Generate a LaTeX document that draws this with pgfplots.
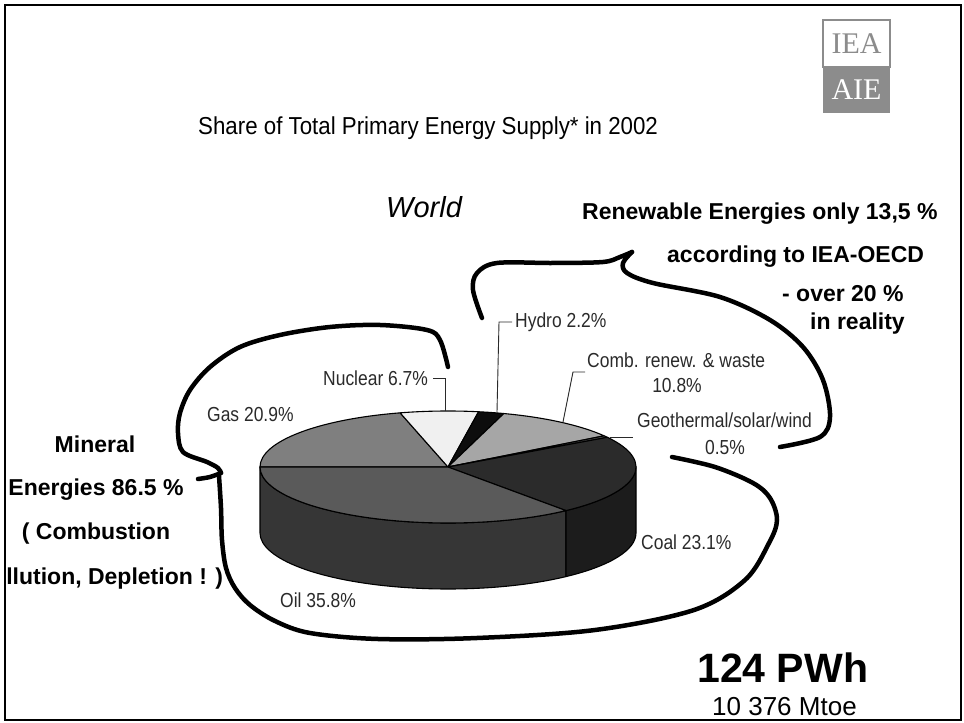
\documentclass[border=0pt]{standalone}
\usepackage{pgfplots}
\pgfplotsset{compat=1.18}
\usepackage{fontspec}
\setmainfont{Liberation Sans}
\newfontfamily\narrowfont[FakeStretch=0.86]{Liberation Sans}
\newfontfamily\titlefont[FakeStretch=0.91]{Liberation Sans}
\newfontfamily\logofont{Liberation Serif}
\definecolor{gasc}{HTML}{7F7F7F}
\definecolor{nucc}{HTML}{F0F0F0}
\definecolor{hydc}{HTML}{0D0D0D}
\definecolor{combc}{HTML}{A6A6A6}
\definecolor{geoc}{HTML}{555555}
\definecolor{coalc}{HTML}{2B2B2B}
\definecolor{oilc}{HTML}{5A5A5A}
\definecolor{oilside}{HTML}{363636}
\definecolor{coalside}{HTML}{1C1C1C}
\definecolor{labc}{HTML}{2A2A2A}
\definecolor{logoc}{HTML}{8C8C8C}
\newcommand{\lab}{\fontsize{20.3}{24}\selectfont\narrowfont\color{labc}}
\newcommand{\bigtxt}{\fontsize{23}{27}\selectfont\bfseries}
\newcommand{\slice}[3]{%
  \filldraw[fill=#3,draw=black,line width=1.1pt,line join=round]
    (axis cs:448,256) -- (axis cs:{448+188*cos(#1)},{256+56*sin(#1)})
    arc[start angle=#1,end angle=#2,x radius=188,y radius=56] -- cycle;}
\begin{document}
\begin{tikzpicture}
% shares of total primary energy supply (%)
\def\pGas{20.9}\def\pNuc{6.7}\def\pHyd{2.2}\def\pComb{10.8}
\def\pGeo{0.5}\def\pCoal{23.1}\def\pOil{35.8}
\pgfmathsetmacro\aO{180}
\pgfmathsetmacro\aA{\aO-3.6*\pGas}
\pgfmathsetmacro\aB{\aA-3.6*\pNuc}
\pgfmathsetmacro\aC{\aB-3.6*\pHyd}
\pgfmathsetmacro\aD{\aC-3.6*\pComb}
\pgfmathsetmacro\aE{\aD-3.6*\pGeo}
\pgfmathsetmacro\aF{\aE-3.6*\pCoal}
\pgfmathsetmacro\aG{\aF-3.6*\pOil}
\pgfmathsetmacro\aFF{\aF+360}
\begin{axis}[width=964pt,height=723pt,scale only axis,
  xmin=0,xmax=964,ymin=0,ymax=723,hide axis,clip=false]
% side walls
\filldraw[fill=oilside,draw=black,line width=1.1pt,line join=round]
  (axis cs:260,256) arc[start angle=180,end angle=\aFF,x radius=188,y radius=56]
  -- (axis cs:{448+188*cos(\aFF)},{190+56*sin(\aFF)})
  arc[start angle=\aFF,end angle=180,x radius=188,y radius=56] -- cycle;
\filldraw[fill=coalside,draw=black,line width=1.1pt,line join=round]
  (axis cs:{448+188*cos(\aFF)},{256+56*sin(\aFF)})
  arc[start angle=\aFF,end angle=360,x radius=188,y radius=56]
  -- (axis cs:636,190)
  arc[start angle=360,end angle=\aFF,x radius=188,y radius=56] -- cycle;
% top slices
\slice{\aO}{\aA}{gasc}
\slice{\aA}{\aB}{nucc}
\slice{\aB}{\aC}{hydc}
\slice{\aC}{\aD}{combc}
\slice{\aD}{\aE}{geoc}
\slice{\aE}{\aF}{coalc}
\slice{\aF}{\aG}{oilc}
% leader lines
\draw[line width=0.9pt,labc] (axis cs:433,345) -- (axis cs:445,345) -- (axis cs:445,312);
\draw[line width=0.9pt,labc] (axis cs:512,401) -- (axis cs:499,401) -- (axis cs:497,311);
\draw[line width=0.9pt,labc] (axis cs:563,301) -- (axis cs:573,351) -- (axis cs:585,351);
\draw[line width=0.9pt,labc] (axis cs:610,286) -- (axis cs:633,286);
% slice labels
\node[anchor=base west,inner sep=0,font=\lab] at (axis cs:207,301) {Gas 20.9\%};
\node[anchor=base west,inner sep=0,font=\lab] at (axis cs:323,337) {Nuclear 6.7\%};
\node[anchor=base west,inner sep=0,font=\lab] at (axis cs:515,395) {Hydro 2.2\%};
\node[anchor=base west,inner sep=0,font=\lab] at (axis cs:587,355) {Comb. renew. \& waste};
\node[anchor=base,inner sep=0,font=\lab] at (axis cs:677,330) {10.8\%};
\node[anchor=base west,inner sep=0,font=\lab] at (axis cs:637,295) {Geothermal/solar/wind};
\node[anchor=base,inner sep=0,font=\lab] at (axis cs:725,268) {0.5\%};
\node[anchor=base west,inner sep=0,font=\lab] at (axis cs:641,173) {Coal 23.1\%};
\node[anchor=base west,inner sep=0,font=\lab] at (axis cs:280,115) {Oil 35.8\%};
% hand-drawn braces
\addplot[black,line width=4.5pt,smooth,tension=0.55,line cap=round,no marks,forget plot]
  coordinates {(448,356) (440,383) (427,393) (380,398) (330,396) (280,388) (240,376)
  (210,356) (190,333) (180,310) (178,290) (183,271) (207,261) (218,255) (221,250)};
\addplot[black,line width=4.5pt,smooth,tension=0.5,line cap=round,no marks,forget plot]
  coordinates {(221,250) (210,246) (198,244)};
\addplot[black,line width=4.5pt,smooth,tension=0.55,line cap=round,no marks,forget plot]
  coordinates {(219,247) (221,215) (222,183) (226,155) (235,135) (250,118) (275,102)
  (310,90) (378,84) (477,85) (595,93) (694,113) (745,143) (769,180) (777,203)
  (770,225) (753,240) (715,256) (672,266)};
\addplot[black,line width=4.5pt,smooth,tension=0.55,line cap=round,no marks,forget plot]
  coordinates {(482,405) (473,433) (477,450) (497,460) (553,460) (603,461) (620,466) (632,471)};
\addplot[black,line width=4.5pt,smooth,tension=0.55,line cap=round,no marks,forget plot]
  coordinates {(632,471) (623,460) (627,450) (653,440) (720,426) (770,403) (803,376)
  (823,343) (830,306) (820,286) (780,276)};
% texts
\node[anchor=base west,inner sep=0,font=\fontsize{24.5}{28}\selectfont\titlefont] at (axis cs:198,588)
  {Share of Total Primary Energy Supply* in 2002};
\node[anchor=base west,inner sep=0,font=\fontsize{29}{33}\selectfont\itshape] at (axis cs:386,505) {World};
\node[anchor=base west,inner sep=0,font=\bigtxt] at (axis cs:582,503) {Renewable Energies only 13,5 \%};
\node[anchor=base west,inner sep=0,font=\bigtxt] at (axis cs:667,460) {according to IEA-OECD};
\node[anchor=base west,inner sep=0,font=\bigtxt] at (axis cs:782,421) {- over 20 \%};
\node[anchor=base west,inner sep=0,font=\bigtxt] at (axis cs:810,393) {in reality};
\node[anchor=base,inner sep=0,font=\bigtxt] at (axis cs:95,270) {Mineral};
\node[anchor=base,inner sep=0,font=\bigtxt] at (axis cs:96,227) {Energies 86.5 \%};
\node[anchor=base,inner sep=0,font=\bigtxt] at (axis cs:96,183) {( Combustion};
\node[anchor=base,inner sep=0,font=\bigtxt] at (axis cs:100,138) {Pollution, Depletion ! )};
\node[anchor=base west,inner sep=0,font=\fontsize{41}{45}\selectfont\bfseries] at (axis cs:697,41) {124 PWh};
\node[anchor=base west,inner sep=0,font=\fontsize{26}{30}\selectfont] at (axis cs:712,8) {10 376 Mtoe};
% logo
\filldraw[fill=white,draw=logoc,line width=1.2pt] (axis cs:823,656) rectangle (axis cs:890,703);
\fill[logoc] (axis cs:823,610) rectangle (axis cs:890,656);
\node[inner sep=0,font=\logofont\fontsize{30}{30}\selectfont,text=logoc] at (axis cs:856.5,679) {IEA};
\node[inner sep=0,font=\logofont\fontsize{30}{30}\selectfont,text=white] at (axis cs:856.5,633) {AIE};
% frame
\fill[white] (axis cs:-80,-20) rectangle (axis cs:4,743);
\draw[line width=2.6pt] (axis cs:5,3) rectangle (axis cs:961,718);
\end{axis}
\pgfresetboundingbox
\useasboundingbox (0,0) rectangle (964pt,723pt);
\end{tikzpicture}
\end{document}
